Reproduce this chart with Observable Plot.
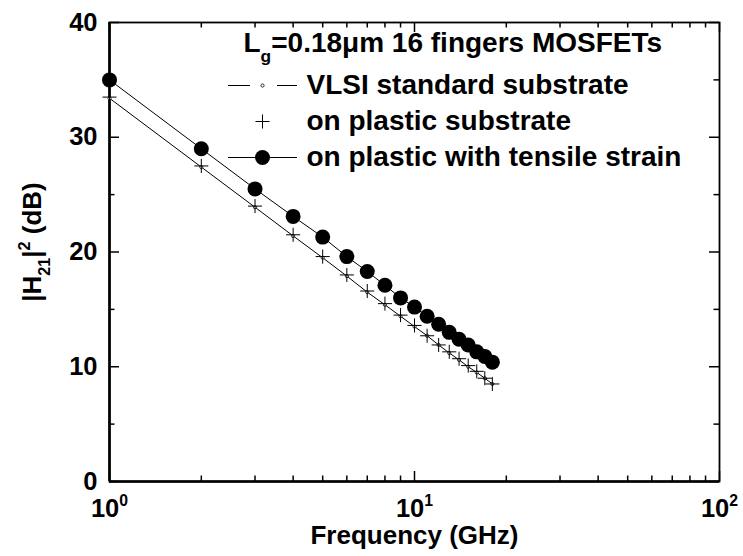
<!DOCTYPE html>
<html><head><meta charset="utf-8">
<script src="https://cdn.jsdelivr.net/npm/d3@7"></script>
<script src="https://cdn.jsdelivr.net/npm/@observablehq/plot@0.6"></script>
<style>html,body{margin:0;padding:0;background:#fff}svg{display:block}</style>
</head><body><div id="chart"></div>
<script>
// ---- data ----
const freq    = [1, 2, 3, 4, 5, 6, 7, 8, 9, 10, 11, 12, 13, 14, 15, 16, 17, 18];
const vlsi    = [33.4, 27.4, 23.9, 21.4, 19.5, 17.9, 16.5, 15.4, 14.4, 13.5, 12.7, 11.9, 11.2, 10.6, 10.0, 9.5, 9.0, 8.5];
const plastic = [33.5, 27.5, 24.0, 21.5, 19.6, 18.0, 16.6, 15.5, 14.5, 13.6, 12.7, 11.9, 11.3, 10.7, 10.1, 9.6, 9.0, 8.5];
const strain  = [35.0, 29.0, 25.5, 23.1, 21.3, 19.6, 18.3, 17.1, 16.0, 15.2, 14.4, 13.7, 13.0, 12.4, 11.9, 11.3, 10.9, 10.4];
const yMajor = [0, 10, 20, 30, 40];
const yMinor = [5, 15, 25, 35];
const xMajor = [1, 10, 100];
const xMinor = [2, 3, 4, 5, 6, 7, 8, 9, 20, 30, 40, 50, 60, 70, 80, 90];
const legendTitle = "L_{g}=0.18μm 16 fingers MOSFETs";
const seriesNames = ["VLSI standard substrate", "on plastic substrate", "on plastic with tensile strain"];
const xLabel = "Frequency (GHz)";
const yLabel = "|H_{21}|^{2} (dB)";

// ---- layout ----
const W = 743, H = 556, mL = 109, mR = 24, mT = 22, mB = 75;
const pw = W - mL - mR, ph = H - mT - mB;
const fsTick = 25.5, fsTitle = 26, fsLeg = 28;
const tMaj = 10, tMin = 5.5;
const legTitle = {x: 243, y: 51};
const legRows = [85, 121, 157];
const legSym = 262, legText = 306, legL0 = 228, legL1 = 297;

const rows = freq.map((f, i) => ({f, vlsi: vlsi[i], plastic: plastic[i], strain: strain[i]}));
const K = "black";

const legendMarks = [];
legendMarks.push(Plot.text([legendTitle], {text: d => d, frameAnchor: "top-left", dx: legTitle.x - mL, dy: legTitle.y - mT,
  textAnchor: "start", lineAnchor: "bottom", fontSize: fsLeg, fontWeight: "bold"}));
seriesNames.forEach((name, i) => {
  legendMarks.push(Plot.text([name], {text: d => d, frameAnchor: "top-left", dx: legText - mL, dy: legRows[i] - mT,
    textAnchor: "start", lineAnchor: "middle", fontSize: fsLeg, fontWeight: "bold"}));
});
legendMarks.push(
  Plot.ruleY([40], {y: d => d, dy: legRows[0] - mT, insetLeft: legL0 - mL, insetRight: W - mR - (legSym - 12), stroke: K, strokeWidth: 1}),
  Plot.ruleY([40], {y: d => d, dy: legRows[0] - mT, insetLeft: legSym + 15 - mL, insetRight: W - mR - legL1, stroke: K, strokeWidth: 1}),
  Plot.dot([0], {frameAnchor: "top-left", dx: legSym - mL, dy: legRows[0] - mT, r: 1.6, stroke: K, strokeWidth: 0.8, fill: "white"}),
  Plot.dot([0], {frameAnchor: "top-left", dx: legSym - mL, dy: legRows[1] - mT, symbol: "plus", r: 4.6, stroke: K, strokeWidth: 1}),
  Plot.ruleY([40], {y: d => d, dy: legRows[2] - mT, insetLeft: legL0 - mL, insetRight: W - mR - legL1, stroke: K, strokeWidth: 1}),
  Plot.dot([0], {frameAnchor: "top-left", dx: legSym - mL, dy: legRows[2] - mT, r: 7.5, fill: K, stroke: "none"})
);

const svg = Plot.plot({
  width: W, height: H,
  marginLeft: mL, marginRight: mR, marginTop: mT, marginBottom: mB,
  x: {type: "log", domain: [1, 100]},
  y: {domain: [0, 40]},
  style: {fontFamily: "'Liberation Sans', Arial, sans-serif", fontWeight: "bold", color: "black", background: "white"},
  marks: [
    // ticks (inward, all four sides)
    Plot.ruleX(xMajor, {x: d => d, insetTop: ph - tMaj, stroke: K, strokeWidth: 1.5}),
    Plot.ruleX(xMinor, {x: d => d, insetTop: ph - tMin, stroke: K, strokeWidth: 1.5}),
    Plot.ruleX(xMajor, {x: d => d, insetBottom: ph - tMaj, stroke: K, strokeWidth: 1.5}),
    Plot.ruleX(xMinor, {x: d => d, insetBottom: ph - tMin, stroke: K, strokeWidth: 1.5}),
    Plot.ruleY(yMajor, {y: d => d, insetRight: pw - tMaj, stroke: K, strokeWidth: 1.5}),
    Plot.ruleY(yMinor, {y: d => d, insetRight: pw - tMin, stroke: K, strokeWidth: 1.5}),
    Plot.ruleY(yMajor, {y: d => d, insetLeft: pw - tMaj, stroke: K, strokeWidth: 1.5}),
    Plot.ruleY(yMinor, {y: d => d, insetLeft: pw - tMin, stroke: K, strokeWidth: 1.5}),
    Plot.frame({stroke: K, strokeWidth: 1.8}),
    Plot.ruleX([1], {stroke: K, strokeWidth: 2.6}),
    Plot.ruleY([0], {stroke: K, strokeWidth: 2.6}),
    // tick labels
    Plot.axisY(yMajor, {tickSize: 0, tickPadding: 12, fontSize: fsTick, fontWeight: "bold", label: null}),
    Plot.axisX(xMajor, {tickSize: 0, tickPadding: 17, fontSize: fsTick, fontWeight: "bold", label: null,
      tickFormat: d => `10^{${Math.round(Math.log10(d))}}`}),
    // axis titles
    Plot.text([xLabel], {text: d => d, frameAnchor: "bottom", dy: 54, textAnchor: "middle", lineAnchor: "middle", fontSize: fsTitle, fontWeight: "bold"}),
    Plot.text([yLabel], {text: d => d, frameAnchor: "left", rotate: -90, dx: 40 - mL, dy: -10, textAnchor: "middle", lineAnchor: "bottom", fontSize: fsTitle, fontWeight: "bold"}),
    // data
    Plot.line(rows, {x: "f", y: "vlsi", stroke: K, strokeWidth: 1}),
    Plot.dot(rows, {x: "f", y: "vlsi", r: 1.6, stroke: K, strokeWidth: 0.8, fill: "white"}),
    Plot.dot(rows, {x: "f", y: "plastic", symbol: "plus", r: 4.6, stroke: K, strokeWidth: 1}),
    Plot.line(rows, {x: "f", y: "strain", stroke: K, strokeWidth: 1}),
    Plot.dot(rows, {x: "f", y: "strain", r: 7.5, fill: K, stroke: "none"}),
    ...legendMarks
  ]
});
document.getElementById("chart").appendChild(svg);

// rich text: _{sub} and ^{sup}
function parseRich(s) {
  const re = /([_^])\{([^}]*)\}/g; const out = []; let last = 0, m;
  while ((m = re.exec(s))) {
    if (m.index > last) out.push({t: s.slice(last, m.index), m: 0});
    out.push({t: m[2], m: m[1] === "_" ? 1 : -1});
    last = re.lastIndex;
  }
  if (last < s.length) out.push({t: s.slice(last), m: 0});
  return out;
}
svg.querySelectorAll("text").forEach(el => {
  const s = el.textContent;
  if (!/[_^]\{/.test(s)) return;
  const fz = parseFloat(getComputedStyle(el).fontSize) || 20;
  const parts = parseRich(s);
  el.textContent = "";
  let cur = 0;
  parts.forEach(p => {
    const ts = document.createElementNS("http://www.w3.org/2000/svg", "tspan");
    const target = p.m === 1 ? 0.36 * fz : p.m === -1 ? -0.42 * fz : 0;
    ts.setAttribute("dy", target - cur); cur = target;
    if (p.m) ts.setAttribute("font-size", 0.62 * fz);
    ts.textContent = p.t;
    el.appendChild(ts);
  });
});
</script></body></html>
